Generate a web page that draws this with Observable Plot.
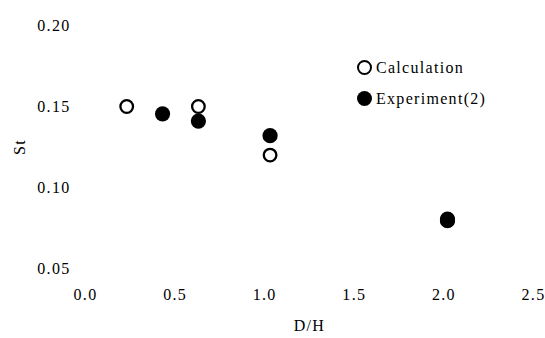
<!DOCTYPE html>
<html><head><meta charset="utf-8">
<script src="https://cdn.jsdelivr.net/npm/d3@7"></script>
<script src="https://cdn.jsdelivr.net/npm/@observablehq/plot@0.6"></script>
<style>
body{margin:0;background:#fff;}
#wrap{position:relative;width:545px;height:338px;overflow:hidden;}
#wrap svg text{letter-spacing:1.3px;font-family:"Liberation Serif","Times New Roman",Times,serif;}
.legend{position:absolute;left:357px;top:52px;font-size:16px;font-family:"Liberation Serif","Times New Roman",Times,serif;letter-spacing:1.3px;color:#000;}
.row{display:flex;align-items:center;height:31px;}
.mk{display:inline-block;box-sizing:border-box;width:15px;height:15px;border-radius:50%;margin-right:4px;}
.open{border:2.3px solid #000;background:#fff;}
.fill{background:#000;}
</style>
</head><body>
<div id="wrap"></div>
<script>
// Data
const dhCalc = [0.23, 0.63, 1.03, 2.02];
const stCalc = [0.150, 0.150, 0.120, 0.080];
const dhExp = [0.43, 0.63, 1.03, 2.02, 2.02];
const stExp = [0.1455, 0.141, 0.132, 0.0805, 0.0795];
const xTicks = [0, 0.5, 1.0, 1.5, 2.0, 2.5];
const yTicks = [0.05, 0.10, 0.15, 0.20];
const seriesNames = ["Calculation", "Experiment(2)"];
const xTitle = "D/H";
const yTitle = "St";

const calc = dhCalc.map((x, i) => ({x, y: stCalc[i]}));
const exp = dhExp.map((x, i) => ({x, y: stExp[i]}));

const serif = "'Liberation Serif', 'Times New Roman', Times, serif";
const chart = Plot.plot({
  width: 545,
  height: 338,
  marginLeft: 85,
  marginRight: 12,
  marginTop: 25,
  marginBottom: 70,
  style: {fontFamily: serif, fontSize: "16px", color: "#000", background: "#fff"},
  x: {domain: [0, 2.5], ticks: xTicks, tickFormat: d3.format(".1f"), tickSize: 0, tickPadding: 20, label: null},
  y: {domain: [0.05, 0.20], ticks: yTicks, tickFormat: d3.format(".2f"), tickSize: 0, tickPadding: 15, label: null},
  marks: [
    Plot.dot(calc, {x: "x", y: "y", r: 6.3, fill: "#fff", stroke: "#000", strokeWidth: 2.3}),
    Plot.dot(exp, {x: "x", y: "y", r: 7.6, fill: "#000", stroke: "none"}),
    Plot.text([yTitle], {frameAnchor: "left", dx: -66, rotate: -90, textAnchor: "middle", lineAnchor: "middle", fill: "#000", fontSize: 16}),
    Plot.text([xTitle], {frameAnchor: "bottom", dy: 57, textAnchor: "middle", lineAnchor: "middle", fill: "#000", fontSize: 16})
  ]
});
const wrap = document.getElementById("wrap");
wrap.appendChild(chart);

const legend = document.createElement("div");
legend.className = "legend";
legend.innerHTML = seriesNames.map((n, i) =>
  `<div class="row"><span class="mk ${i === 0 ? "open" : "fill"}"></span><span>${n}</span></div>`).join("");
wrap.appendChild(legend);
</script>
</body></html>
